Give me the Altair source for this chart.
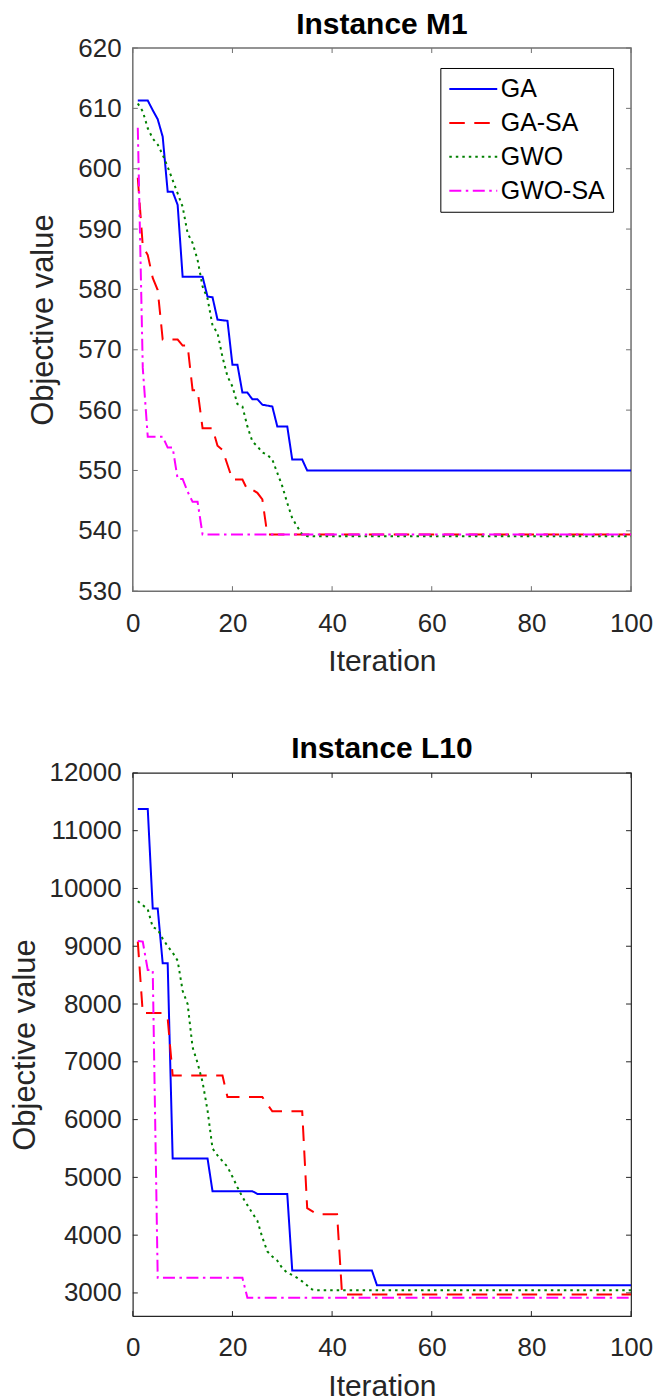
import altair as alt
import pandas as pd

FONT = "Liberation Sans"
SERIES = ["GA", "GA-SA", "GWO", "GWO-SA"]
COLORS = ["#0000FF", "#FF0000", "#008000", "#FF00FF"]
DASHES = [[1, 0], [15.5, 9.5], [2.5, 4], [12, 4.5, 2.5, 4.5]]
WIDTHS = [2, 2, 2.6, 2]

# ---------------- Instance M1 ----------------
m1_ga_x = [1, 3, 4, 5, 6, 7, 8, 9, 10, 14, 15, 16, 17, 19, 20, 21, 22, 23, 24, 25, 26, 28, 29, 31, 32, 34, 35, 100]
m1_ga_y = [611.3, 611.3, 609.7, 608.2, 605.3, 596.2, 596.2, 594.0, 582.1, 582.1, 578.8, 578.7, 575.0, 574.8,
           567.5, 567.5, 562.9, 562.9, 561.8, 561.8, 560.9, 560.6, 557.3, 557.3, 551.8, 551.8, 550.0, 550.0]

m1_gasa_x = [1, 2, 3, 4, 5, 6, 9, 10, 11, 12, 13, 14, 16, 17, 18, 20, 22, 23, 24, 25, 26, 27, 100]
m1_gasa_y = [598.5, 587.2, 585.7, 581.9, 579.9, 571.7, 571.7, 570.7, 570.7, 563.3, 563.3, 557.0, 557.0, 554.1,
             553.4, 548.5, 548.5, 546.8, 546.8, 546.3, 545.2, 539.4, 539.4]

m1_gwo_x = [1, 2, 3, 4, 5, 6, 7, 8, 9, 10, 11, 12, 13, 14, 15, 16, 17, 18, 19, 20, 21, 22, 23, 24, 25, 26,
            27, 28, 29, 30, 31, 32, 33, 34, 35, 100]
m1_gwo_y = [610.8, 609.5, 606.7, 605.0, 604.0, 602.3, 600.3, 598.1, 595.9, 593.7, 589.3, 587.7, 584.9, 580.5,
            578.5, 574.0, 572.8, 568.8, 565.6, 563.9, 561.0, 560.6, 557.3, 554.8, 554.0, 553.0, 552.6, 551.8,
            549.6, 547.4, 544.6, 542.1, 540.7, 539.4, 539.1, 539.1]

m1_gwosa_x = [1, 2, 3, 6, 7, 8, 9, 10, 11, 12, 13, 14, 100]
m1_gwosa_y = [606.8, 567.0, 555.6, 555.6, 553.8, 553.8, 548.6, 548.6, 546.5, 544.8, 544.8, 539.4, 539.4]

# ---------------- Instance L10 ----------------
l10_ga_x = [1, 3, 4, 5, 6, 7, 8, 15, 16, 24, 25, 31, 32, 48, 49, 100]
l10_ga_y = [11375, 11375, 9652, 9652, 8704, 8704, 5328, 5328, 4760, 4760, 4713, 4713, 3387, 3387, 3134, 3134]

l10_gasa_x = [1, 2, 6, 7, 8, 18, 19, 26, 28, 34, 35, 37, 41, 42, 100]
l10_gasa_y = [9080, 7843, 7843, 7750, 6763, 6763, 6390, 6390, 6143, 6143, 4467, 4363, 4363, 2973, 2973]

l10_gwo_x = [1, 2, 3, 4, 5, 6, 7, 8, 9, 10, 11, 12, 13, 14, 15, 16, 17, 18, 19, 20, 21, 22, 23, 24, 25, 26,
             27, 28, 29, 30, 31, 32, 33, 34, 35, 36, 37, 100]
l10_gwo_y = [9778, 9710, 9640, 9330, 9290, 9130, 9000, 8890, 8750, 8230, 8000, 7250, 6980, 6650, 6160, 5500,
             5380, 5280, 5184, 5010, 4830, 4660, 4520, 4380, 4250, 3960, 3720, 3630, 3560, 3430, 3350, 3310,
             3260, 3200, 3130, 3060, 3048, 3048]

l10_gwosa_x = [1, 2, 3, 4, 5, 22, 23, 100]
l10_gwosa_y = [9090, 9080, 8590, 8590, 3261, 3261, 2916, 2916]

X_TICKS = [0, 20, 40, 60, 80, 100]
M1_Y_TICKS = [530, 540, 550, 560, 570, 580, 590, 600, 610, 620]
L10_Y_TICKS = [3000, 4000, 5000, 6000, 7000, 8000, 9000, 10000, 11000, 12000]


def long_df(series):
    rows = []
    for name, xs, ys in series:
        for x, y in zip(xs, ys):
            rows.append({"algo": name, "iter": x, "obj": y})
    return pd.DataFrame(rows)


m1_df = long_df([("GA", m1_ga_x, m1_ga_y), ("GA-SA", m1_gasa_x, m1_gasa_y),
                 ("GWO", m1_gwo_x, m1_gwo_y), ("GWO-SA", m1_gwosa_x, m1_gwosa_y)])
l10_df = long_df([("GA", l10_ga_x, l10_ga_y), ("GA-SA", l10_gasa_x, l10_gasa_y),
                  ("GWO", l10_gwo_x, l10_gwo_y), ("GWO-SA", l10_gwosa_x, l10_gwosa_y)])


def panel(df, title, ydom, yticks, W, H, ytitlepad, title_offset, show_legend, frame_color, frame_width):
    xs = alt.Scale(domain=[0, 100], nice=False, zero=False)
    ys = alt.Scale(domain=ydom, nice=False, zero=False)
    xaxis = alt.Axis(values=X_TICKS, ticks=False, tickSize=0, grid=False, domain=False,
                     labelFont=FONT, labelFontSize=26, labelColor="#262626", labelPadding=19,
                     labelFlush=False, labelOverlap=False, format="d",
                     title="Iteration", titleFont=FONT, titleFontSize=30, titleFontWeight="normal",
                     titleColor="#262626", titlePadding=10.5)
    yaxis = alt.Axis(values=yticks, ticks=False, tickSize=0, grid=False, domain=False,
                     labelFont=FONT, labelFontSize=26, labelColor="#262626", labelPadding=11.7,
                     labelFlush=False, labelOverlap=False, format="d",
                     title="Objective value", titleFont=FONT, titleFontSize=31, titleFontWeight="normal",
                     titleColor="#262626", titlePadding=ytitlepad)
    if show_legend:
        leg = alt.Legend(orient="none", legendX=308, legendY=20, title=None,
                         symbolType="M-1,0H3", symbolSize=576,
                         labelFont=FONT, labelFontSize=25, labelColor="black", labelOffset=26.5,
                         labelLimit=400, padding=8, rowPadding=8,
                         strokeColor="black", fillColor="white")
    else:
        leg = None
    color = alt.Color("algo:N", scale=alt.Scale(domain=SERIES, range=COLORS), legend=leg)
    dash = alt.StrokeDash("algo:N", scale=alt.Scale(domain=SERIES, range=DASHES), legend=leg)
    width = alt.StrokeWidth("algo:N", scale=alt.Scale(domain=SERIES, range=WIDTHS), legend=leg)

    lines = alt.Chart(df).mark_line(clip=True).encode(
        x=alt.X("iter:Q", scale=xs, axis=xaxis),
        y=alt.Y("obj:Q", scale=ys, axis=yaxis),
        color=color,
        strokeDash=dash,
        strokeWidth=width,
        order=alt.Order("iter:Q"),
    )
    xt = pd.DataFrame({"iter": X_TICKS})
    yt = pd.DataFrame({"obj": yticks})
    tick_x_bot = alt.Chart(xt).mark_rule(color=frame_color, strokeWidth=1).encode(
        x=alt.X("iter:Q", scale=xs, axis=xaxis), y=alt.value(H), y2=alt.value(H - 5))
    tick_x_top = alt.Chart(xt).mark_rule(color=frame_color, strokeWidth=1).encode(
        x=alt.X("iter:Q", scale=xs, axis=xaxis), y=alt.value(0), y2=alt.value(5))
    tick_y_left = alt.Chart(yt).mark_rule(color=frame_color, strokeWidth=1).encode(
        y=alt.Y("obj:Q", scale=ys, axis=yaxis), x=alt.value(0), x2=alt.value(5))
    tick_y_right = alt.Chart(yt).mark_rule(color=frame_color, strokeWidth=1).encode(
        y=alt.Y("obj:Q", scale=ys, axis=yaxis), x=alt.value(W), x2=alt.value(W - 5))

    return alt.layer(tick_x_bot, tick_x_top, tick_y_left, tick_y_right, lines).properties(
        width=W, height=H,
        title=alt.TitleParams(title, font=FONT, fontSize=30, fontWeight="bold", color="black",
                              anchor="middle", frame="group", baseline="top", offset=title_offset),
        view=alt.ViewBackground(stroke=frame_color, strokeWidth=frame_width, fill="white"),
    )


top = panel(m1_df, "Instance M1", [530, 620], M1_Y_TICKS, 499, 544, 18.5, -5.2, True, "#707070", 1.5)
bottom = panel(l10_df, "Instance L10", [2600, 12000], L10_Y_TICKS, 499, 544, 7.5, -4.5, False, "#262626", 1.2)

chart = alt.vconcat(top, bottom, spacing=55).properties(
    padding={"left": 0, "top": 0, "right": 0, "bottom": 0},
    background="white",
).configure(font=FONT)

chart.save("out.html", embed_options={"renderer": "svg", "actions": False})
